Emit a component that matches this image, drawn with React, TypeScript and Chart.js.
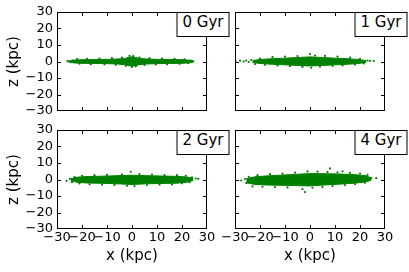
import React, { useEffect, useRef } from 'react';
import { Chart, registerables } from 'chart.js';
Chart.register(...registerables);

Chart.defaults.font.family = '"DejaVu Sans", sans-serif';
Chart.defaults.color = '#000';

const panelLabels = ['0 Gyr', '1 Gyr', '2 Gyr', '4 Gyr'];
const axisMin = -30;
const axisMax = 30;
const axisStep = 10;
const xTitle = 'x (kpc)';
const yTitle = 'z (kpc)';

// Dense-disk envelope (upper / lower z edge of the particle cloud) per snapshot
const env0X = [-25.5, -23, -20, -15, -10, -6, -3, -1.5, 0, 1.5, 3, 6, 10, 15, 20, 23, 24.5];
const env0Up = [0.3, 0.9, 1.1, 1.2, 1.3, 1.5, 1.8, 2.4, 2.8, 2.4, 1.8, 1.5, 1.3, 1.2, 1.1, 0.8, 0.3];
const env0Lo = [-0.3, -0.9, -1.1, -1.2, -1.3, -1.5, -1.9, -2.5, -2.8, -2.5, -1.9, -1.5, -1.3, -1.2, -1.1, -0.8, -0.3];

const env1X = [-23, -20, -15, -10, -5, 0, 5, 10, 15, 20, 22.5];
const env1Up = [0.6, 1.2, 1.7, 2.0, 2.4, 2.8, 2.4, 2.0, 1.7, 1.1, 0.5];
const env1Lo = [-0.6, -1.2, -1.7, -2.0, -2.4, -2.7, -2.4, -2.0, -1.7, -1.1, -0.5];

const env2X = [-24.5, -22, -18, -12, -6, 0, 6, 12, 18, 22, 24.5];
const env2Up = [0.5, 1.4, 1.8, 2.0, 2.3, 2.6, 2.3, 2.1, 1.9, 1.5, 0.6];
const env2Lo = [-0.7, -1.7, -2.1, -2.3, -2.6, -3.0, -2.6, -2.4, -2.2, -1.6, -0.6];

const env3X = [-25.5, -22, -18, -12, -6, 0, 6, 12, 18, 22, 24.5];
const env3Up = [0.5, 1.6, 2.1, 2.6, 3.1, 3.6, 3.5, 3.3, 2.9, 2.4, 1.0];
const env3Lo = [-2.0, -3.0, -3.3, -3.5, -3.7, -3.9, -3.3, -2.8, -2.2, -1.5, -0.5];

// Sparse outlying particles per snapshot
const stars0X = [-25.8, -24.5, -23.8, -22, -21, -18, -16.5, -13, -11, -8, -6.5, -4, -2.5, -1, 0.5, 0, 1.5, 3, 5, 7, 9.5, 12, 14, 17, 19, 21, 22.5, 23.5, 24.5];
const stars0Z = [0.2, -0.4, 0.5, 1.4, -1.3, 1.6, -1.6, 1.8, -1.7, 2.0, -2.0, 2.4, -2.6, 3.4, 3.2, -3.3, -2.9, 2.4, -2.1, 2.0, -1.8, 1.8, -1.7, 1.6, -1.4, 1.3, -1.0, 0.6, 0.1];

const stars1X = [-29.8, -28, -26.5, -25.5, -24.5, -23.5, -22, -20, -18, -15, -13, -10, -8, -5, -3, 0, 0.5, 2, 4, 6, 9, 11, 13, 16, 18, 20, 21.5, 23, 24, 25.5];
const stars1Z = [0.3, 0.5, 0, 0.6, -0.3, 0.9, -1.5, 1.8, -2.0, 2.6, -2.4, 2.9, -2.8, 3.3, -3.3, 4.5, -3.8, 3.6, -3.1, 3.4, -2.7, 2.9, -2.4, 2.3, -1.8, 1.6, -1.2, 0.6, 0.4, 0.3];

const stars2X = [-26.2, -24.8, -24, -23, -21, -20, -17, -15, -12, -10, -7, -4, -2, -0.5, 1, 3, 6, 8, 11, 13, 16, 18, 20, 21.5, 23, 24, 25.5, 26.5];
const stars2Z = [-0.8, 0.4, -1.6, 1.5, -2.4, 2.2, -2.9, 2.6, -3.1, 2.8, -3.3, 3.0, -3.8, 4.7, -4.0, 3.3, -3.4, 3.0, -3.1, 2.7, -3.0, 2.6, -2.3, 2.2, -1.6, 1.3, 0.6, 0.4];

const stars3X = [-27.5, -26, -25.5, -24.5, -23, -21, -19, -16, -14, -11, -9, -6, -3, -1, 1, 3, 5, 7, 8, 9, 11, 13, 14, 16, 18, 20, 22, 23, 24.5, 26.5, -2];
const stars3Z = [-0.6, 0.3, -2.2, 1.6, -4.2, 2.6, -4.4, 3.2, -4.6, 3.6, -4.8, 4.2, -5.8, 4.9, -5.0, 4.8, -4.6, 4.6, 6.7, -4.0, 4.4, 5.0, -3.4, 4.0, -2.8, 3.6, -1.9, 2.8, 0.8, 0.8, -7.6];

const envX = [env0X, env1X, env2X, env3X];
const envUp = [env0Up, env1Up, env2Up, env3Up];
const envLo = [env0Lo, env1Lo, env2Lo, env3Lo];
const starsX = [stars0X, stars1X, stars2X, stars3X];
const starsZ = [stars0Z, stars1Z, stars2Z, stars3Z];

const GREEN = '#008000';
const INK = '#000';

const fmt = (v: number) => (v < 0 ? '\u2212' + Math.abs(v) : String(v));

type PanelCfg = {
  idx: number;
  left: number;
  top: number;
  width: number;
  height: number;
  padTop: number;
  padRight: number;
  yW: number;
  xH: number;
  showX: boolean;
  showY: boolean;
};

function Panel(p: PanelCfg) {
  const ref = useRef<HTMLCanvasElement | null>(null);
  const ovRef = useRef<HTMLDivElement | null>(null);
  useEffect(() => {
    if (!ref.current) return;
    const i = p.idx;
    const upper = envX[i].map((x, k) => ({ x, y: envUp[i][k] }));
    const lower = envX[i].map((x, k) => ({ x, y: envLo[i][k] }));
    const stars = starsX[i].map((x, k) => ({ x, y: starsZ[i][k] }));
    const chart = new Chart(ref.current, {
      type: 'line',
      data: {
        datasets: [
          { data: upper, borderColor: GREEN, borderWidth: 1, pointRadius: 0, fill: false, tension: 0 },
          { data: lower, borderColor: GREEN, borderWidth: 1, pointRadius: 0, fill: '-1', backgroundColor: GREEN, tension: 0 },
          { data: stars, showLine: false, pointRadius: 1.1, pointBorderWidth: 0, pointBackgroundColor: GREEN, borderColor: GREEN },
        ],
      },
      options: {
        animation: false,
        responsive: false,
        events: [],
        layout: { padding: { top: p.padTop, right: p.padRight, left: 0, bottom: 0 } },
        plugins: {
          legend: { display: false },
          tooltip: { enabled: false },
        },
        scales: {
          x: {
            type: 'linear',
            min: axisMin,
            max: axisMax,
            grid: { display: false, drawTicks: false },
            border: { display: false },
            ticks: { stepSize: axisStep, display: p.showX, padding: 1, autoSkip: false, maxRotation: 0, font: { size: 13 }, callback: (v: any) => fmt(Number(v)) },
            title: { display: p.showX, text: xTitle, font: { size: 15 }, padding: { top: 0, bottom: 7 } },
            afterFit: (s: any) => { s.height = p.xH; },
          },
          y: {
            type: 'linear',
            min: axisMin,
            max: axisMax,
            grid: { display: false, drawTicks: false },
            border: { display: false },
            ticks: { stepSize: axisStep, display: p.showY, padding: 4, autoSkip: false, font: { size: 13 }, callback: (v: any) => fmt(Number(v)) },
            title: { display: p.showY, text: yTitle, font: { size: 15 }, padding: { top: 5, bottom: 0 } },
            afterFit: (s: any) => { s.width = p.yW; },
          },
        },
      },
    });

    // Frame, inward ticks (from the chart's own scales) and the panel label box
    const ov = ovRef.current;
    if (ov) {
      ov.innerHTML = '';
      const a = chart.chartArea;
      const L = Math.round(a.left);
      const T = Math.round(a.top);
      const R = Math.round(a.right);
      const B = Math.round(a.bottom);
      const mk = (x: number, y: number, w: number, h: number) => {
        const d = document.createElement('div');
        Object.assign(d.style, {
          position: 'absolute', left: x + 'px', top: y + 'px', width: w + 'px', height: h + 'px', background: INK,
        });
        ov.appendChild(d);
      };
      mk(L, T, R - L, 1);
      mk(L, B - 1, R - L, 1);
      mk(L, T, 1, B - T);
      mk(R - 1, T, 1, B - T);
      const tl = 4;
      const sx: any = chart.scales.x;
      const sy: any = chart.scales.y;
      for (const t of sx.ticks) {
        const px = Math.min(R - 1, Math.round(sx.getPixelForValue(t.value)));
        mk(px, T, 1, tl);
        mk(px, B - tl, 1, tl);
      }
      for (const t of sy.ticks) {
        const py = Math.min(B - 1, Math.round(sy.getPixelForValue(t.value)));
        mk(L, py, tl, 1);
        mk(R - tl, py, tl, 1);
      }
      const box = document.createElement('div');
      box.textContent = panelLabels[i];
      Object.assign(box.style, {
        position: 'absolute',
        left: R - 4 + 'px',
        top: T + 'px',
        width: 'max-content',
        transform: 'translateX(-50%)',
        height: '25px',
        lineHeight: '23px',
        padding: '0 5px',
        border: '1px solid #000',
        boxSizing: 'border-box',
        background: '#fff',
        font: '15px "DejaVu Sans", sans-serif',
        whiteSpace: 'nowrap',
        color: '#000',
      });
      ov.appendChild(box);
    }
    return () => {
      chart.destroy();
      if (ov) ov.innerHTML = '';
    };
  }, []);
  return (
    <div style={{ position: 'absolute', left: p.left, top: p.top, width: p.width, height: p.height }}>
      <canvas
        ref={ref}
        width={p.width}
        height={p.height}
        style={{ position: 'absolute', left: 0, top: 0, width: p.width, height: p.height }}
      />
      <div ref={ovRef} style={{ position: 'absolute', left: 0, top: 0, width: p.width, height: p.height, pointerEvents: 'none' }} />
    </div>
  );
}

const PANELS: PanelCfg[] = [
  { idx: 0, left: 0, top: 0, width: 235, height: 124, padTop: 12, padRight: 28, yW: 57, xH: 13, showX: false, showY: true },
  { idx: 1, left: 219, top: 0, width: 190, height: 124, padTop: 12, padRight: 24, yW: 16, xH: 13, showX: false, showY: false },
  { idx: 2, left: 0, top: 118, width: 235, height: 154, padTop: 12, padRight: 28, yW: 57, xH: 43, showX: true, showY: true },
  { idx: 3, left: 219, top: 118, width: 190, height: 154, padTop: 12, padRight: 24, yW: 16, xH: 43, showX: true, showY: false },
];

export default function App() {
  return (
    <div style={{ position: 'absolute', left: 0, top: 0, width: 409, height: 272, background: '#fff' }}>
      {PANELS.map((p) => (
        <Panel key={p.idx} {...p} />
      ))}
    </div>
  );
}
